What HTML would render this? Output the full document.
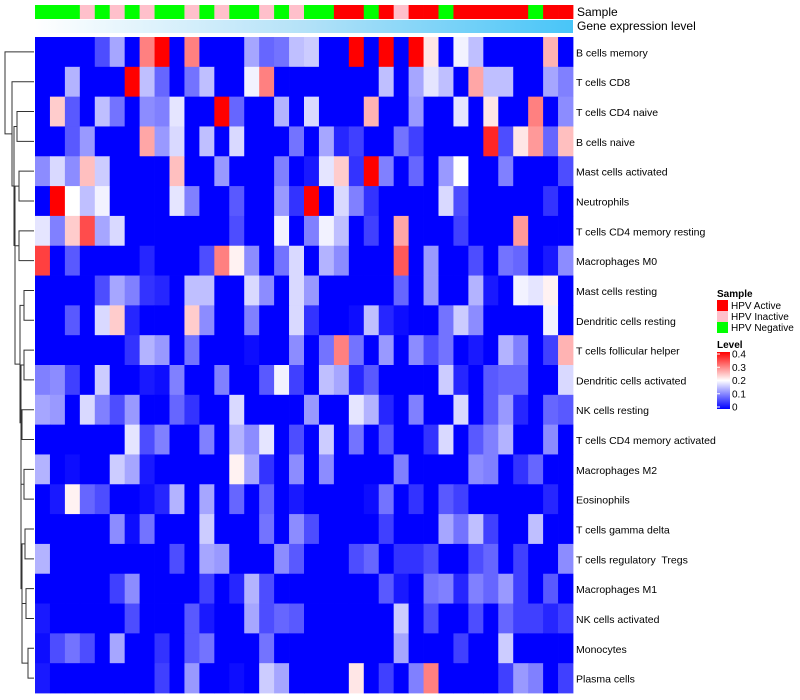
<!DOCTYPE html>
<html>
<head>
<meta charset="utf-8">
<style>
  html,body{margin:0;padding:0;background:#fff;}
  svg{display:block;font-family:"Liberation Sans",sans-serif;}
  text{white-space:pre;}
</style>
</head>
<body>
<svg id="chart" width="800" height="700" viewBox="0 0 800 700">
  <defs>
    <linearGradient id="geneGrad" x1="0" x2="1" y1="0" y2="0">
      <stop offset="0" stop-color="#ffffff"/>
      <stop offset="0.5" stop-color="#b4e2f8"/>
      <stop offset="1" stop-color="#48c5f8"/>
    </linearGradient>
    <linearGradient id="levelGrad" x1="0" x2="0" y1="1" y2="0">
      <stop offset="0" stop-color="#0000ff"/>
      <stop offset="0.5" stop-color="#ffffff"/>
      <stop offset="1" stop-color="#ff0000"/>
    </linearGradient>
  </defs>
  <g id="cells"></g>
  <g id="annot"></g>
  <rect x="35" y="20" width="538" height="13" fill="url(#geneGrad)"/>
  <text x="577" y="16" font-size="12">Sample</text>
  <text x="577" y="30" font-size="12">Gene expression level</text>
  <g id="rowlabels"></g>
  <g id="dendro" stroke="#333" stroke-width="1" fill="none"></g>
  <g>
    <text x="717" y="297" font-size="10" font-weight="bold">Sample</text>
    <rect x="717" y="300" width="11" height="11" fill="#ff0000"/>
    <text x="731" y="309" font-size="10">HPV Active</text>
    <rect x="717" y="311" width="11" height="11" fill="#ffc0cb"/>
    <text x="731" y="320" font-size="10">HPV Inactive</text>
    <rect x="717" y="322" width="11" height="11" fill="#00ff00"/>
    <text x="731" y="331" font-size="10">HPV Negative</text>
    <text x="717" y="348" font-size="10" font-weight="bold">Level</text>
    <rect x="717" y="352" width="13" height="57" fill="url(#levelGrad)"/>
    <g id="levelTicks"></g>
  </g>
</svg>
<script>
const rowNames = ["B cells memory","T cells CD8","T cells CD4 naive","B cells naive","Mast cells activated","Neutrophils","T cells CD4 memory resting","Macrophages M0","Mast cells resting","Dendritic cells resting","T cells follicular helper","Dendritic cells activated","NK cells resting","T cells CD4 memory activated","Macrophages M2","Eosinophils","T cells gamma delta","T cells regulatory  Tregs","Macrophages M1","NK cells activated","Monocytes","Plasma cells"];
const sampleGroups = ["N","N","N","I","N","I","N","I","N","N","I","N","I","N","N","I","N","I","N","N","A","A","N","A","I","A","A","N","A","A","A","A","A","N","A","A"];
const levelTicks = [0, 0.1, 0.2, 0.3, 0.4];
// values in hundredths (0..40 => 0..0.4)
const r01 = [0,0,0,0,6,13,0,30,40,0,30,0,0,0,13,8,9,15,16,0,0,40,0,40,0,40,22,0,19,15,0,0,0,0,26,0];
const r02 = [0,0,14,0,0,0,40,15,8,0,9,15,0,0,19,30,0,0,0,0,0,0,0,15,0,13,18,15,0,27,15,15,0,0,13,10];
const r03 = [0,24,7,0,15,9,0,11,10,18,0,0,40,8,0,0,14,0,17,0,0,0,26,0,0,12,0,0,18,0,22,0,0,30,0,11];
const r04 = [0,0,7,12,0,0,0,27,12,17,0,15,0,17,0,0,0,9,0,13,3,5,0,0,9,5,0,0,0,0,37,6,22,28,8,25];
const r05 = [11,17,11,25,16,0,0,0,0,25,0,0,12,0,0,0,10,0,2,18,24,4,40,10,0,8,0,12,20,0,0,10,0,0,0,6];
const r06 = [0,40,20,15,19,0,0,0,0,18,10,0,0,7,0,0,12,4,40,0,17,10,4,0,0,0,0,17,6,0,0,0,0,0,4,0];
const r07 = [18,10,24,34,13,17,0,0,0,0,0,0,0,6,0,0,19,0,10,19,15,0,5,0,27,0,0,0,5,0,0,0,28,0,0,0];
const r08 = [35,0,7,0,0,0,0,3,0,0,0,6,30,21,11,0,9,17,0,14,11,0,0,0,33,0,12,0,0,6,0,9,8,0,2,11];
const r09 = [0,0,0,0,6,13,10,4,3,0,15,15,0,0,17,11,0,17,12,0,0,0,0,0,8,0,12,0,0,14,2,0,19,18,21,0];
const r10 = [0,0,7,0,17,24,3,0,0,0,24,11,0,0,10,0,0,17,4,0,0,1,15,3,1,0,0,9,16,11,0,0,0,0,19,0];
const r11 = [0,0,0,0,0,0,4,14,12,0,9,0,0,0,1,0,0,11,0,9,30,9,0,12,0,11,6,9,0,2,0,14,10,0,5,26];
const r12 = [10,11,5,0,16,0,0,2,1,10,0,0,10,0,0,7,19,5,0,15,13,3,7,0,0,0,0,16,3,0,7,8,8,0,0,17];
const r13 = [13,12,0,17,10,6,12,0,0,8,4,0,0,17,0,0,0,0,12,0,0,18,14,3,0,10,0,0,17,0,7,12,3,0,8,7];
const r14 = [0,0,0,0,0,0,18,6,10,0,0,10,0,14,11,18,0,6,0,16,0,9,0,7,0,0,4,17,0,7,10,14,0,0,11,0];
const r15 = [14,0,1,0,0,16,13,2,0,0,0,0,0,21,13,4,0,11,0,11,0,0,0,0,10,0,0,0,0,11,10,0,4,8,0,0];
const r16 = [0,2,21,8,6,0,0,1,3,14,0,13,0,8,0,8,0,2,0,0,0,0,1,9,0,4,0,7,5,0,0,0,0,0,3,0];
const r17 = [0,0,0,0,0,11,1,9,0,0,0,16,0,0,0,9,0,11,6,0,0,0,0,5,0,0,0,13,9,15,5,0,0,15,0,0];
const r18 = [14,0,0,0,0,0,0,0,0,6,0,13,12,0,0,0,11,7,0,0,0,6,8,0,4,4,6,0,0,6,8,0,5,0,0,11];
const r19 = [0,0,0,0,0,5,11,0,0,0,0,5,0,3,14,6,0,0,0,0,0,0,0,7,2,0,9,10,3,10,8,12,5,0,7,0];
const r20 = [2,0,0,0,0,0,6,0,0,0,7,2,0,0,13,6,8,7,0,0,0,0,0,0,16,0,6,0,0,6,0,8,5,5,3,5];
const r21 = [1,6,9,6,0,13,0,0,4,0,7,9,0,0,0,9,0,0,0,0,0,0,0,0,13,0,0,0,5,0,0,16,0,0,0,0];
const r22 = [2,0,0,0,0,0,0,0,5,0,12,0,0,1,0,16,13,0,0,0,0,22,0,5,0,10,30,0,0,0,0,5,12,10,0,5];
const values = [r01,r02,r03,r04,r05,r06,r07,r08,r09,r10,r11,r12,r13,r14,r15,r16,r17,r18,r19,r20,r21,r22];
const tree = [5,0,[12,1,[14,[17,2,3],[15,[19,4,5],[15,[19,6,7],[20,[24,8,9],[21,[24,10,11],[21,[22,12,13],[21,[24,14,15],[22,[25,16,17],[22,[26,18,19],[28,20,21]]]]]]]]]]]];

const NS = "http://www.w3.org/2000/svg";
const X0 = 35, X1 = 573, Y0 = 37, Y1 = 693;
const nCols = sampleGroups.length, nRows = rowNames.length;
const cw = (X1 - X0) / nCols, rh = (Y1 - Y0) / nRows;
const xPos = c => X0 + c * cw;
const yPos = r => Y0 + r * rh;
function levelColor(h){
  const v = Math.max(0, Math.min(0.4, h / 100));
  if (v < 0.2){ const t = v / 0.2; return `rgb(${Math.round(255*t)},${Math.round(255*t)},255)`; }
  const t = (v - 0.2) / 0.2; return `rgb(255,${Math.round(255*(1-t))},${Math.round(255*(1-t))})`;
}
const groupColor = {A:"#ff0000", I:"#ffc0cb", N:"#00ff00"};
function mk(tag, attrs, parent){
  const el = document.createElementNS(NS, tag);
  for (const k in attrs) el.setAttribute(k, attrs[k]);
  parent.appendChild(el); return el;
}
const cells = document.getElementById("cells");
values.forEach((row, r) => {
  row.forEach((v, c) => {
    const el = mk("rect", {x: xPos(c).toFixed(2), y: yPos(r).toFixed(2), width: (cw+0.4).toFixed(2), height: (rh+0.4).toFixed(2), fill: levelColor(v)}, cells);
    
    
  });
});
const annot = document.getElementById("annot");
sampleGroups.forEach((g, c) => {
  const el = mk("rect", {x: xPos(c).toFixed(2), y: 5, width: (cw+0.4).toFixed(2), height: 14, fill: groupColor[g]}, annot);
  
  
});
const rl = document.getElementById("rowlabels");
rowNames.forEach((n, r) => {
  const t = mk("text", {x: 576, y: (yPos(r) + rh/2 + 4.5).toFixed(1), "font-size": "10.5", fill: "#000"}, rl);
  t.textContent = n;
  
  
});
const dg = document.getElementById("dendro");
function draw(node){
  if (typeof node === "number") return {x: X0 - 1, y: yPos(node) + rh/2};
  const h = node[0], a = draw(node[1]), b = draw(node[2]);
  const p = mk("path", {d: `M${a.x},${a.y}H${h}V${b.y}H${b.x}`}, dg);
  
  
  return {x: h, y: (a.y + b.y) / 2};
}
draw(tree);
const lt = document.getElementById("levelTicks");
levelTicks.forEach(v => {
  const y = 407 - (v / 0.4) * 53;
  const ln = mk("line", {x1: 717, x2: 720, y1: y, y2: y, stroke: "#fff", "stroke-width": 1}, lt);
  
  
  const t = mk("text", {x: 732, y: (y + 3.5).toFixed(1), "font-size": "10"}, lt);
  t.textContent = String(v);
  
  
});
</script>
</body>
</html>
